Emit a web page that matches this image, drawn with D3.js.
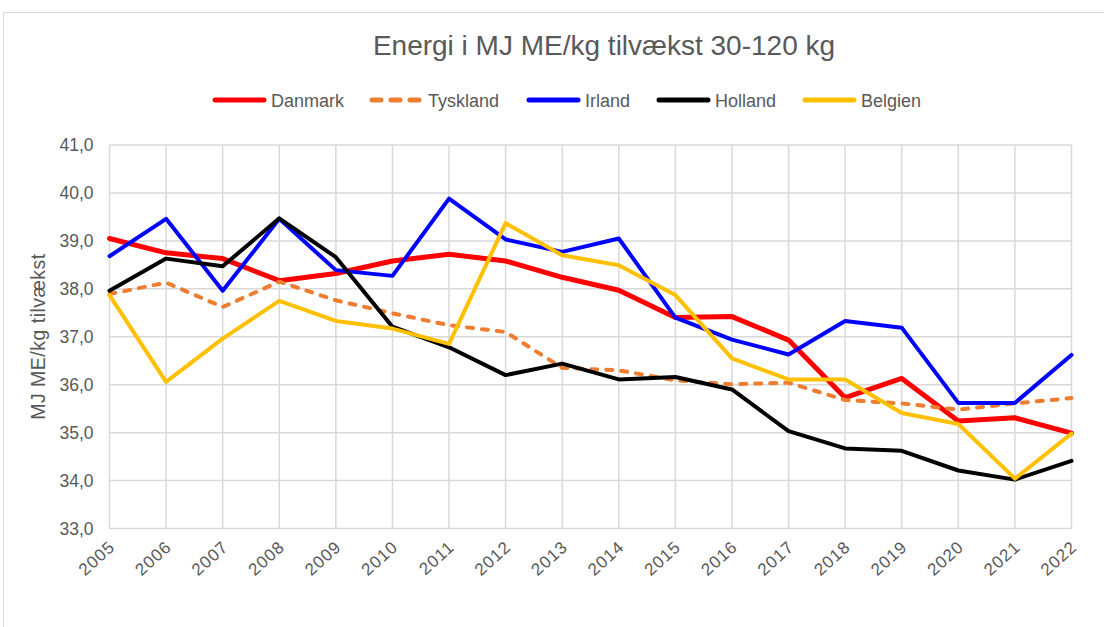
<!DOCTYPE html>
<html>
<head>
<meta charset="utf-8">
<script src="https://cdn.jsdelivr.net/npm/d3@7"></script>
<style>
  body { margin: 0; background: #fff; }
  svg { font-family: "Liberation Sans", Arial, sans-serif; }
</style>
</head>
<body>
<svg id="chart" width="1104" height="627"></svg>
<script>
var years = [2005, 2006, 2007, 2008, 2009, 2010, 2011, 2012, 2013, 2014, 2015, 2016, 2017, 2018, 2019, 2020, 2021, 2022];
var danmark  = [39.05, 38.75, 38.63, 38.17, 38.32, 38.58, 38.72, 38.58, 38.24, 37.97, 37.40, 37.42, 36.93, 35.73, 36.13, 35.24, 35.31, 34.99];
var tyskland = [37.89, 38.13, 37.62, 38.15, 37.76, 37.49, 37.24, 37.10, 36.35, 36.30, 36.09, 36.01, 36.04, 35.68, 35.61, 35.48, 35.61, 35.72];
var irland   = [38.68, 39.46, 37.96, 39.46, 38.39, 38.27, 39.88, 39.03, 38.77, 39.05, 37.40, 36.94, 36.63, 37.33, 37.19, 35.62, 35.62, 36.62];
var holland  = [37.96, 38.63, 38.47, 39.47, 38.66, 37.21, 36.78, 36.20, 36.44, 36.11, 36.16, 35.90, 35.03, 34.67, 34.62, 34.21, 34.02, 34.41];
var belgien  = [37.87, 36.06, 36.96, 37.75, 37.33, 37.17, 36.85, 39.37, 38.70, 38.49, 37.87, 36.55, 36.11, 36.11, 35.41, 35.18, 34.04, 34.98];
var yTicks = [33, 34, 35, 36, 37, 38, 39, 40, 41];

var series = [
  {name: "Danmark",  values: danmark,  color: "#ff0000", width: 5, dash: null},
  {name: "Tyskland", values: tyskland, color: "#ed7d31", width: 4, dash: "6,9"},
  {name: "Irland",   values: irland,   color: "#0000ff", width: 4, dash: null},
  {name: "Holland",  values: holland,  color: "#000000", width: 4, dash: null},
  {name: "Belgien",  values: belgien,  color: "#ffc000", width: 4, dash: null}
];

var svg = d3.select("#chart");
var textCol = "#595959", gridCol = "#d9d9d9";

// outer chart frame
svg.append("rect")
  .attr("x", 3.5).attr("y", 12.5)
  .attr("width", 1300).attr("height", 800)
  .attr("fill", "none").attr("stroke", gridCol).attr("stroke-width", 1);

var loc = d3.formatLocale({decimal: ",", thousands: ".", grouping: [3], currency: ["", " kr"]});
var fmt = loc.format(".1f");

var x = d3.scalePoint().domain(years).range([109.5, 1071.5]);
var y = d3.scaleLinear().domain([33, 41]).range([528.5, 145]);

var g = svg.append("g");

// grid
g.selectAll(".hgrid").data(yTicks).enter().append("line")
  .attr("x1", x(years[0])).attr("x2", x(years[years.length - 1]))
  .attr("y1", function(d) { return y(d); }).attr("y2", function(d) { return y(d); })
  .attr("stroke", gridCol).attr("stroke-width", 1.5);
g.selectAll(".vgrid").data(years).enter().append("line")
  .attr("x1", function(d) { return x(d); }).attr("x2", function(d) { return x(d); })
  .attr("y1", y(41)).attr("y2", y(33))
  .attr("stroke", gridCol).attr("stroke-width", 1.5);

// y labels
var yAxis = d3.axisLeft(y).tickValues(yTicks).tickFormat(fmt).tickSize(0).tickPadding(16);
var ya = g.append("g").attr("transform", "translate(" + x(years[0]) + ",0)").call(yAxis);
ya.select(".domain").remove();
ya.selectAll("text").attr("fill", textCol).style("font-size", "17.5px").style("font-family", "Liberation Sans, Arial, sans-serif");

// x labels
var xAxis = d3.axisBottom(x).tickSize(0).tickPadding(0);
var xa = g.append("g").attr("transform", "translate(0," + y(33) + ")").call(xAxis);
xa.select(".domain").remove();
xa.selectAll("text")
  .attr("fill", textCol).style("font-size", "17px").style("font-family", "Liberation Sans, Arial, sans-serif")
  .style("letter-spacing", "1px")
  .attr("text-anchor", "end").attr("dy", null).attr("y", 0)
  .attr("transform", "translate(6,20) rotate(-42)");

// lines
var line = d3.line()
  .x(function(d, i) { return x(years[i]); })
  .y(function(d) { return y(d); });

series.forEach(function(s) {
  g.append("path")
    .attr("d", line(s.values))
    .attr("fill", "none")
    .attr("stroke", s.color)
    .attr("stroke-width", s.width)
    .attr("stroke-linejoin", "round")
    .attr("stroke-linecap", "round")
    .attr("stroke-dasharray", s.dash);
});

// title
svg.append("text")
  .attr("x", 604).attr("y", 55)
  .attr("text-anchor", "middle")
  .attr("fill", textCol)
  .style("font-size", "28px")
  .text("Energi i MJ ME/kg tilvækst 30-120 kg");

// y axis title
svg.append("text")
  .attr("transform", "translate(45," + ((y(33) + y(41)) / 2) + ") rotate(-90)")
  .attr("text-anchor", "middle")
  .attr("fill", textCol)
  .style("font-size", "19.5px")
  .attr("textLength", 166)
  .text("MJ ME/kg tilvækst");

// legend
var legX = [213, 370, 527, 657, 803];
var leg = svg.selectAll(".leg").data(series).enter().append("g")
  .attr("transform", function(d, i) { return "translate(" + legX[i] + ",100)"; });
leg.append("line")
  .attr("x1", 2).attr("x2", 51).attr("y1", 0).attr("y2", 0)
  .attr("stroke", function(d) { return d.color; })
  .attr("stroke-width", 5)
  .attr("stroke-linecap", "round")
  .attr("stroke-dasharray", function(d) { return d.dash ? "9,10" : null; });
leg.append("text")
  .attr("x", 58).attr("y", 6.5)
  .attr("fill", textCol)
  .style("font-size", "18px")
  .text(function(d) { return d.name; });
</script>
</body>
</html>
